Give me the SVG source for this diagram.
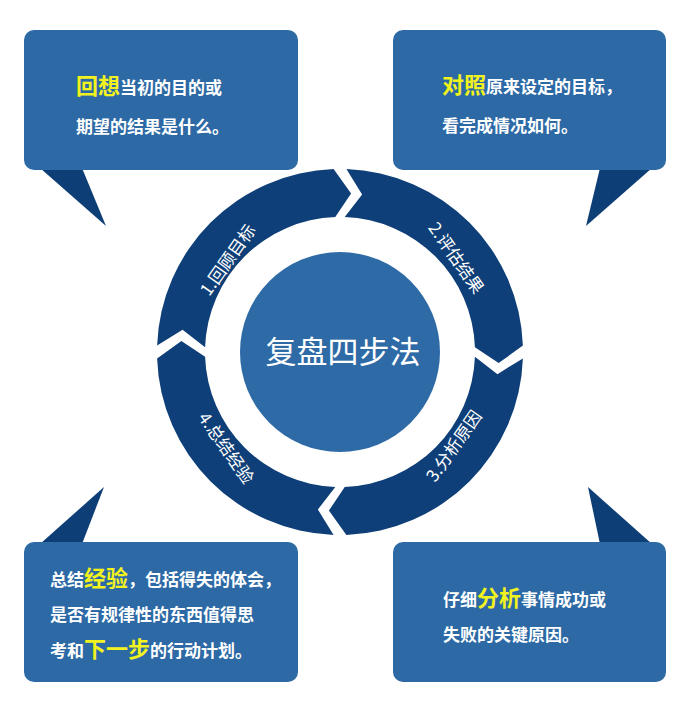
<svg xmlns="http://www.w3.org/2000/svg" width="694" height="726" viewBox="0 0 694 726">
<style>
.box{fill:#2c69a5}
.tail{fill:#0d3e76}
.seg{fill:#0f3f78}
.t{font-family:"Noto Sans CJK SC","Liberation Sans",sans-serif;font-size:17px;fill:#fff;font-weight:bold}
.h{font-size:22px;fill:#f2f21e}
.r{font-family:"Noto Sans CJK SC","Liberation Sans",sans-serif;font-size:17px;fill:#fff}
</style>
<defs>
<path id="seg" d="M157.11,345.61 A183,183 0 0 1 333.61,169.11 L351.09,193.39 L335.29,217.08 A135,135 0 0 0 205.08,347.29 L182.55,329.87 Z"/>
</defs>
<rect width="694" height="726" fill="#fff"/>
<g id="box1"><polygon class="tail" points="40,168 82,168 106,226"/><rect class="box" x="24" y="30" width="274" height="140" rx="10"/>
<text class="t" x="76" y="94"><tspan class="h">回想</tspan>当初的目的或</text><text class="t" x="76" y="133">期望的结果是什么。</text></g>
<g id="box2"><polygon class="tail" points="600,168 652,168 586,226"/><rect class="box" x="393" y="30" width="273" height="140" rx="10"/>
<text class="t" x="442" y="93"><tspan class="h">对照</tspan>原来设定的目标，</text><text class="t" x="442" y="132">看完成情况如何。</text></g>
<g id="box3"><polygon class="tail" points="40,544 82,544 104,487"/><rect class="box" x="24" y="542" width="274" height="140" rx="10"/>
<text class="t" x="50" y="586">总结<tspan class="h">经验</tspan>，包括得失的体会，</text><text class="t" x="50" y="621">是否有规律性的东西值得思</text><text class="t" x="50" y="657">考和<tspan class="h">下一步</tspan>的行动计划。</text></g>
<g id="box4"><polygon class="tail" points="600,544 652,544 588,487"/><rect class="box" x="393" y="542" width="273" height="140" rx="10"/>
<text class="t" x="443" y="606">仔细<tspan class="h">分析</tspan>事情成功或</text><text class="t" x="443" y="641">失败的关键原因。</text></g>
<g id="connectors">
<use href="#seg" class="seg"/>
<use href="#seg" class="seg" transform="rotate(90 340 352)"/>
<use href="#seg" class="seg" transform="rotate(180 340 352)"/>
<use href="#seg" class="seg" transform="rotate(270 340 352)"/>
</g>
<g id="labels">
<text class="r" text-anchor="middle" transform="translate(228,260) rotate(-55)" dy="6">1.回顾目标</text>
<text class="r" text-anchor="middle" transform="translate(456,258) rotate(55)" dy="6">2.评估结果</text>
<text class="r" text-anchor="middle" transform="translate(454,446) rotate(-55)" dy="6">3.分析原因</text>
<text class="r" text-anchor="middle" transform="translate(226,448) rotate(55)" dy="6">4.总结经验</text>
</g>
<g id="center"><circle cx="340" cy="352" r="100" fill="#2e6aa6"/>
<text x="343" y="363" text-anchor="middle" font-family="Noto Sans CJK SC,sans-serif" font-size="31" fill="#fff">复盘四步法</text></g>
</svg>
